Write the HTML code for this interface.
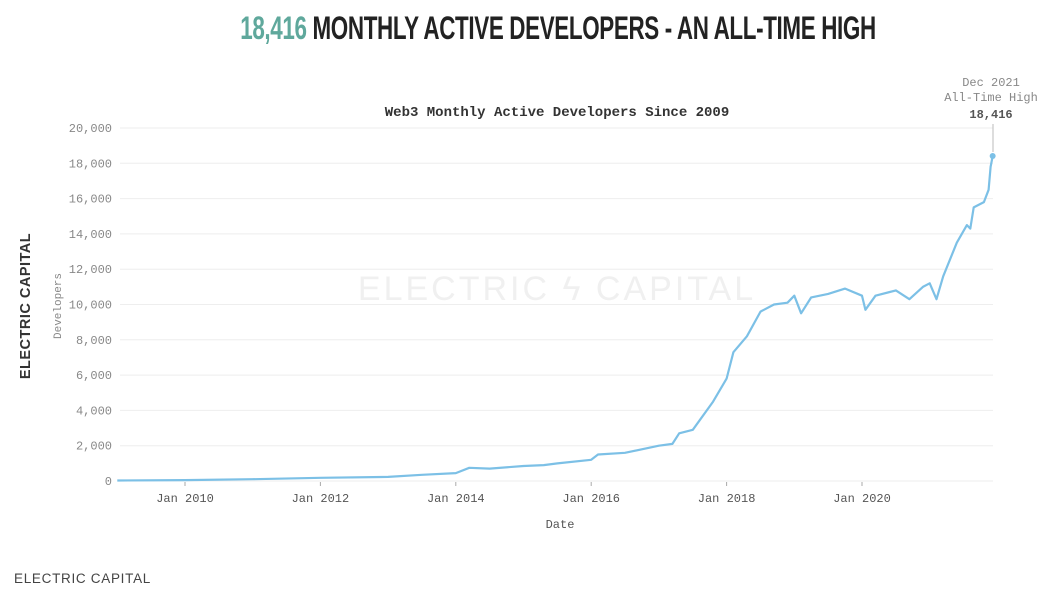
<!DOCTYPE html>
<html><head><meta charset="utf-8"><style>
body{margin:0;background:#fff;width:1056px;height:599px;overflow:hidden;font-family:"Liberation Sans",sans-serif}
#title{position:absolute;left:0;width:1116px;top:10px;text-align:center;font:bold 32px "Liberation Sans Narrow","Liberation Sans",sans-serif;letter-spacing:-0.5px;color:#222;transform:scaleX(0.7);transform-origin:558px 0;white-space:nowrap}
#title span{color:#5fa89c}
#foot{position:absolute;left:14px;top:571px;font-size:13.5px;color:#444;letter-spacing:0.7px}
</style></head><body>
<div id="title"><span>18,416</span> MONTHLY ACTIVE DEVELOPERS - AN ALL-TIME HIGH</div>
<svg id="chart" width="1056" height="599" style="position:absolute;left:0;top:0" font-family="Liberation Mono, monospace">
<text x="557" y="116" text-anchor="middle" font-size="14" font-weight="bold" fill="#333">Web3 Monthly Active Developers Since 2009</text>
<text x="557" y="300" text-anchor="middle" font-family="Liberation Sans, sans-serif" font-size="34" fill="#f0f0f0" letter-spacing="3">ELECTRIC ϟ CAPITAL</text>
<text transform="translate(30,306) rotate(-90)" text-anchor="middle" font-family="Liberation Sans, sans-serif" font-weight="bold" font-size="14.5" fill="#333" letter-spacing="0.5">ELECTRIC CAPITAL</text>
<text transform="translate(61,306) rotate(-90)" text-anchor="middle" font-size="11" fill="#888">Developers</text>
<text x="560" y="528" text-anchor="middle" font-size="12" fill="#555">Date</text>
<g id="grid"></g><g id="ticks"></g>
<path id="line" fill="none" stroke="#7cc0e6" stroke-width="2.2" stroke-linejoin="round"></path>
<line x1="993" y1="124" x2="993" y2="152" stroke="#bbb"/>
<text x="991" y="86" text-anchor="middle" font-size="12" fill="#888">Dec 2021</text>
<text x="991" y="101" text-anchor="middle" font-size="12" fill="#888">All-Time High</text>
<text x="991" y="118" text-anchor="middle" font-size="12" font-weight="bold" fill="#555">18,416</text>
<circle id="peak" r="3" fill="#7cc0e6"/>
</svg>
<div id="foot">ELECTRIC CAPITAL</div>
<script>
const yTicks=[0,2000,4000,6000,8000,10000,12000,14000,16000,18000,20000];
const xTickYears=[2010,2012,2014,2016,2018,2020];
const dates=[2009.0,2010.0,2011.0,2012.0,2013.0,2013.5,2014.0,2014.2,2014.5,2015.0,2015.3,2015.5,2016.0,2016.1,2016.5,2017.0,2017.2,2017.3,2017.5,2017.8,2018.0,2018.1,2018.3,2018.5,2018.7,2018.9,2019.0,2019.1,2019.25,2019.5,2019.75,2020.0,2020.05,2020.2,2020.5,2020.7,2020.9,2021.0,2021.1,2021.2,2021.4,2021.55,2021.6,2021.65,2021.8,2021.87,2021.9,2021.93];
const values=[30,50,100,180,230,350,450,750,700,850,900,1000,1200,1500,1600,2000,2100,2700,2900,4500,5800,7300,8200,9600,10000,10100,10500,9500,10400,10600,10900,10500,9700,10500,10800,10300,11000,11200,10300,11600,13500,14500,14300,15500,15800,16500,17800,18416];
const x=d=>185+(d-2010)*67.7, y=v=>481-v*0.01765;
const NS='http://www.w3.org/2000/svg';
const g=document.getElementById('grid'),t=document.getElementById('ticks');
yTicks.forEach(v=>{
 const l=document.createElementNS(NS,'line');
 l.setAttribute('x1',120);l.setAttribute('x2',993);l.setAttribute('y1',y(v));l.setAttribute('y2',y(v));
 l.setAttribute('stroke','#eee');
 
 
 g.appendChild(l);
 const tx=document.createElementNS(NS,'text');
 tx.setAttribute('x',112);tx.setAttribute('y',y(v)+4);tx.setAttribute('text-anchor','end');tx.setAttribute('font-size','12');tx.setAttribute('fill','#888');
 tx.textContent=v.toLocaleString('en-US');
 
 
 t.appendChild(tx);
});
xTickYears.forEach(yr=>{
 const tx=document.createElementNS(NS,'text');
 tx.setAttribute('x',x(yr));tx.setAttribute('y',502);tx.setAttribute('text-anchor','middle');tx.setAttribute('font-size','12');tx.setAttribute('fill','#555');
 tx.textContent='Jan '+yr;
 
 
 t.appendChild(tx);
 const l=document.createElementNS(NS,'line');
 l.setAttribute('x1',x(yr));l.setAttribute('x2',x(yr));l.setAttribute('y1',482);l.setAttribute('y2',486);l.setAttribute('stroke','#aaa');
 
 
 t.appendChild(l);
});
document.getElementById('line').setAttribute('d',dates.map((d,i)=>(i?'L':'M')+x(d).toFixed(1)+','+y(values[i]).toFixed(1)).join(''));
const p=document.getElementById('peak');p.setAttribute('cx',x(dates[dates.length-1]));p.setAttribute('cy',y(values[values.length-1]));
</script>
</body></html>
